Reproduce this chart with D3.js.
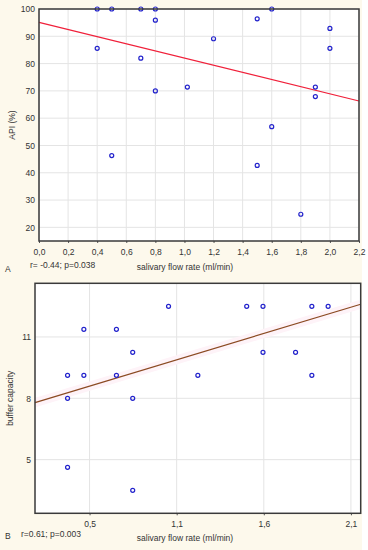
<!DOCTYPE html>
<html>
<head>
<meta charset="utf-8">
<script src="https://cdnjs.cloudflare.com/ajax/libs/d3/7.8.5/d3.min.js"></script>
<style>
  html, body { margin: 0; padding: 0; background: #fdf9ec; }
  svg { display: block; }
  text { font-family: "Liberation Sans", Arial, sans-serif; font-size: 8.5px; fill: #333; }
</style>
</head>
<body>
<svg id="chart" width="368" height="550"></svg>
<script>
// panel A: API (%) vs salivary flow rate
const flowA = [0.4, 0.4, 0.5, 0.5, 0.7, 0.7, 0.8, 0.8, 0.8, 1.02, 1.2, 1.5, 1.5, 1.6, 1.6, 1.8, 1.9, 1.9, 2.0, 2.0];
const apiA = [100, 85.6, 100, 46.3, 100, 82, 100, 95.9, 70, 71.4, 89.1, 96.4, 42.7, 100, 56.9, 24.8, 71.4, 67.9, 92.9, 85.6];
const fitAx = [0, 2.2];
const fitAy = [95.1, 66.3];
const xTicksA = [0, 0.2, 0.4, 0.6, 0.8, 1.0, 1.2, 1.4, 1.6, 1.8, 2.0, 2.2];
const yTicksA = [20, 30, 40, 50, 60, 70, 80, 90, 100];

// panel B: buffer capacity vs salivary flow rate
const flowB = [0.4, 0.4, 0.4, 0.5, 0.5, 0.7, 0.7, 0.8, 0.8, 0.8, 1.02, 1.2, 1.5, 1.6, 1.6, 1.8, 1.9, 1.9, 2.0];
const bufferB = [9, 8, 5, 9, 11, 11, 9, 10, 8, 4, 12, 9, 12, 12, 10, 10, 12, 9, 12];
const fitBx = [0.2, 2.2];
const fitBy = [7.81, 12.09];
const xTicksB = [0.535, 1.07, 1.605, 2.14];
const xLabelsB = ["0,5", "1,1", "1,6", "2,1"];
const yTicksB = [5.333, 8, 10.667];
const yLabelsB = ["5", "8", "11"];

const svg = d3.select("#chart");
const comma = d => d3.format(".1f")(d).replace(".", ",");

// white strip on the right edge
svg.append("rect").attr("x", 362).attr("y", 0).attr("width", 6).attr("height", 550).attr("fill", "#fff");

function panel(opt) {
  const x = d3.scaleLinear().domain(opt.xDomain).range([opt.left, opt.right]);
  const y = d3.scaleLinear().domain(opt.yDomain).range([opt.bottom, opt.top]);
  const g = svg.append("g");

  g.append("rect")
    .attr("x", opt.left).attr("y", opt.top)
    .attr("width", opt.right - opt.left).attr("height", opt.bottom - opt.top)
    .attr("fill", "#fff");

  // grid
  g.selectAll(".vgrid").data(opt.xTicks).enter().append("line")
    .attr("x1", d => x(d)).attr("x2", d => x(d))
    .attr("y1", opt.top).attr("y2", opt.bottom)
    .attr("stroke", "#e4e4e4").attr("stroke-width", 1);
  g.selectAll(".hgrid").data(opt.yTicks).enter().append("line")
    .attr("x1", opt.left).attr("x2", opt.right)
    .attr("y1", d => y(d)).attr("y2", d => y(d))
    .attr("stroke", "#e4e4e4").attr("stroke-width", 1);

  // axes
  const ax = g.append("g").attr("transform", "translate(0," + opt.bottom + ")")
    .call(d3.axisBottom(x).tickValues(opt.xTicks).tickFormat(opt.xFormat).tickSizeOuter(0).tickSizeInner(2).tickPadding(6));
  const ay = g.append("g").attr("transform", "translate(" + opt.left + ",0)")
    .call(d3.axisLeft(y).tickValues(opt.yTicks).tickFormat(opt.yFormat).tickSizeOuter(0).tickSizeInner(opt.yTickSize).tickPadding(4));
  [ax, ay].forEach(a => {
    a.select(".domain").remove();
    a.selectAll("line").attr("stroke", "#555");
    a.selectAll("text").attr("font-family", "Liberation Sans, Arial, sans-serif").attr("font-size", "8.5px").attr("fill", "#333");
  });

  // regression
  const line = d3.line().x(d => x(d[0])).y(d => y(d[1]));
  const fit = opt.fitX.map((v, i) => [v, opt.fitY[i]]);
  if (opt.band) {
    g.append("path").datum(fit).attr("d", line)
      .attr("fill", "none").attr("stroke", "#fef3f8").attr("stroke-width", 9);
  }
  g.append("path").datum(fit).attr("d", line)
    .attr("fill", "none").attr("stroke", opt.fitColor).attr("stroke-width", 1.2);

  // points
  g.selectAll(".pt").data(opt.xs).enter().append("circle")
    .attr("cx", d => x(d)).attr("cy", (d, i) => y(opt.ys[i]))
    .attr("r", 2).attr("fill", "none").attr("stroke", "#2222cc").attr("stroke-width", 1.2);

  // frame
  g.append("rect")
    .attr("x", opt.left).attr("y", opt.top)
    .attr("width", opt.right - opt.left).attr("height", opt.bottom - opt.top)
    .attr("fill", "none").attr("stroke", "#3a3a3a").attr("stroke-width", 1.5);

  // labels
  g.append("text").attr("transform", "translate(" + opt.yTitleX + "," + (opt.top + opt.bottom) / 2 + ") rotate(-90)")
    .attr("text-anchor", "middle").text(opt.yTitle);
  g.append("text").attr("x", 185).attr("y", opt.xTitleY).attr("text-anchor", "middle").text("salivary flow rate (ml/min)");
  g.append("text").attr("x", 5).attr("y", opt.letterY).text(opt.letter);
  g.append("text").attr("x", opt.statX).attr("y", opt.statY).text(opt.stat);
}

panel({
  left: 39, right: 359, top: 9, bottom: 241,
  xDomain: [0, 2.2], yDomain: [15, 100],
  xTicks: xTicksA, yTicks: yTicksA,
  xFormat: comma, yFormat: d3.format("d"), yTickSize: 0,
  xs: flowA, ys: apiA,
  fitX: fitAx, fitY: fitAy, fitColor: "#f0203a", band: false,
  yTitle: "API (%)", yTitleX: 15, xTitleY: 270,
  letter: "A", letterY: 272, stat: "r= -0.44; p=0.038", statX: 30, statY: 267.5
});

panel({
  left: 35, right: 360.7, top: 283.3, bottom: 513.3,
  xDomain: [0.2, 2.2], yDomain: [3, 13],
  xTicks: xTicksB, yTicks: yTicksB,
  xFormat: (d, i) => xLabelsB[i], yFormat: (d, i) => yLabelsB[i], yTickSize: 0,
  xs: flowB, ys: bufferB,
  fitX: fitBx, fitY: fitBy, fitColor: "#8b4a22", band: true,
  yTitle: "buffer capacity", yTitleX: 13, xTitleY: 540.5,
  letter: "B", letterY: 538.5, stat: "r=0.61; p=0.003", statX: 21, statY: 536.7
});
</script>
</body>
</html>
